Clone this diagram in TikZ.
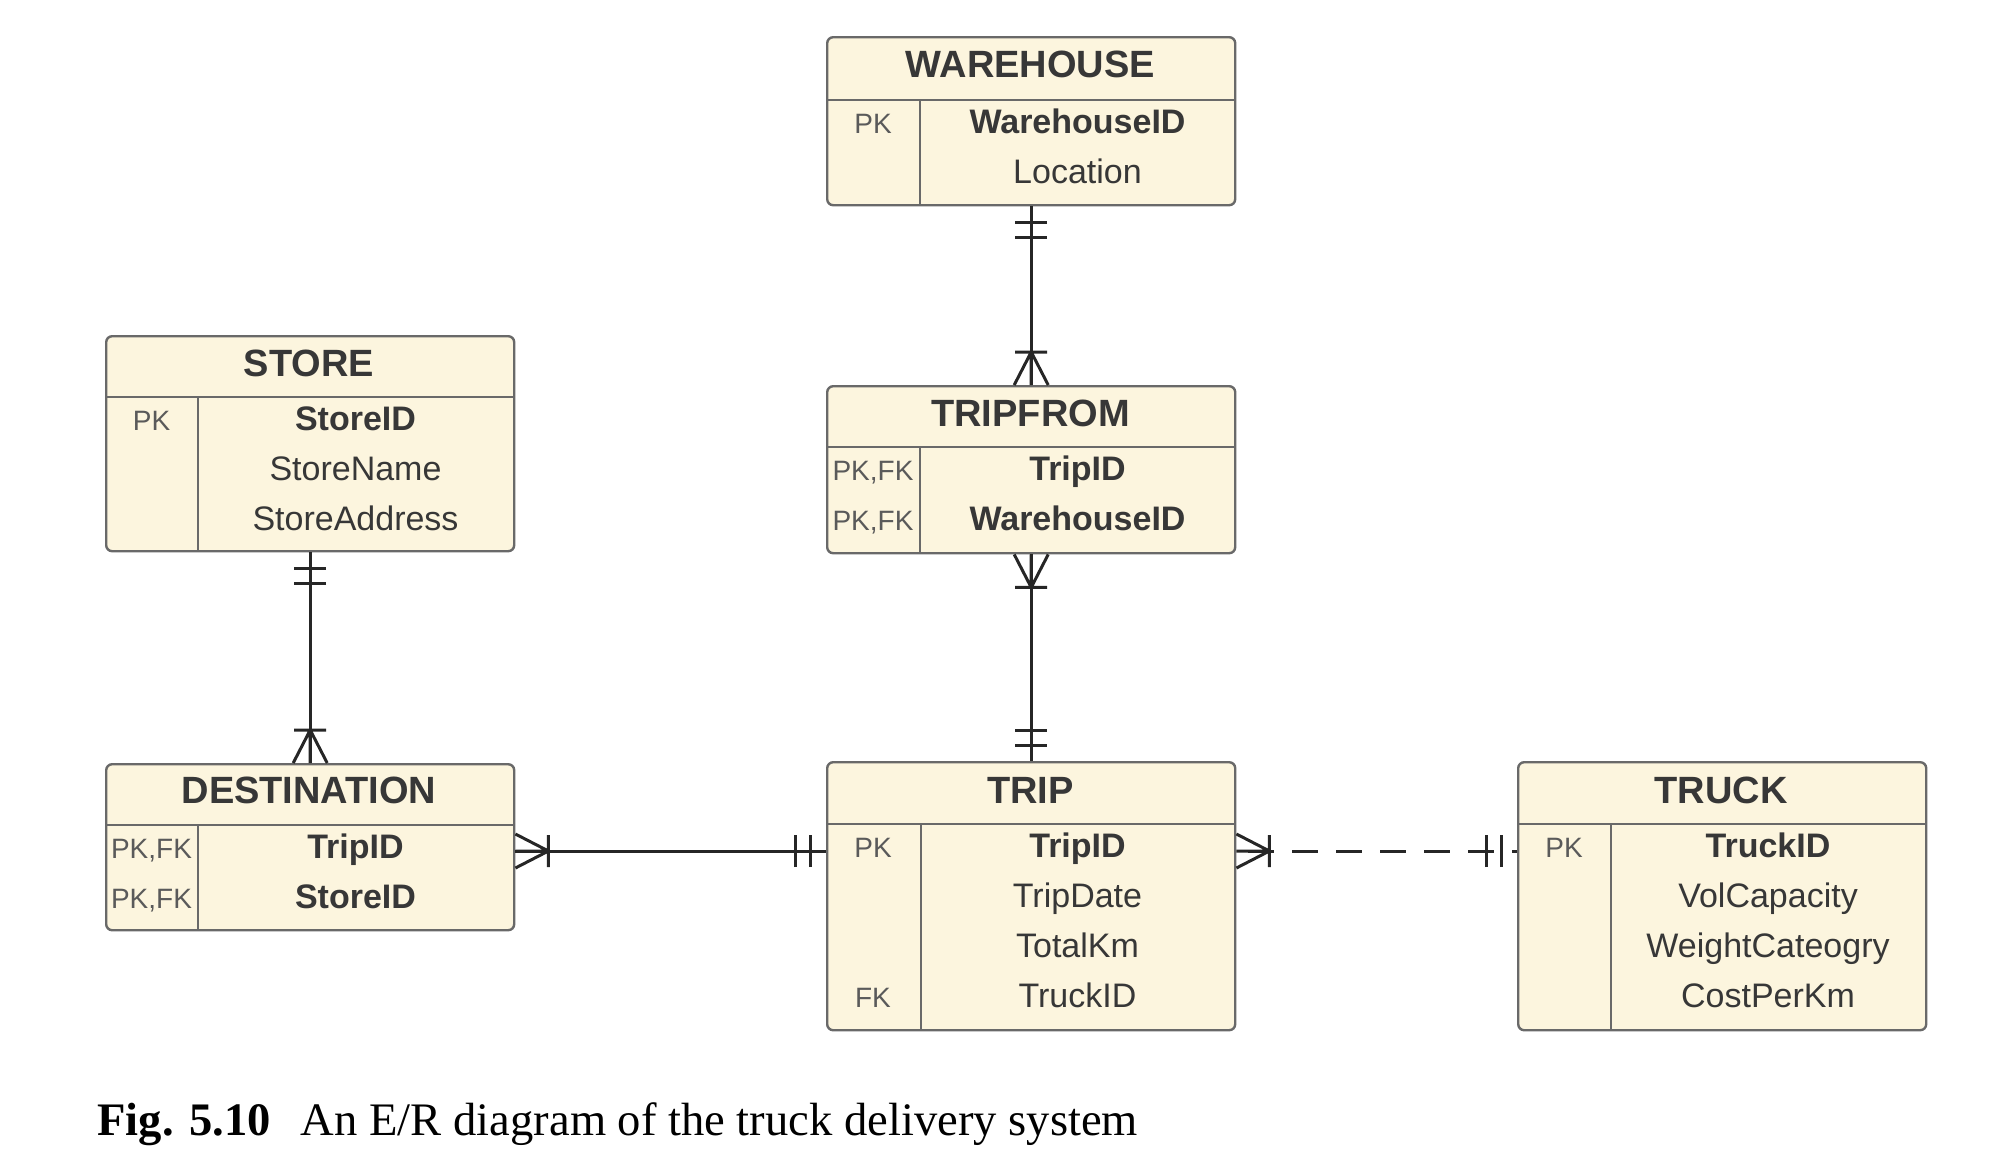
\documentclass[tikz,border=0pt]{standalone}
\usepackage{fontspec}
\setmainfont{Liberation Serif}
\setsansfont{Liberation Sans}
\definecolor{entfill}{RGB}{252,245,222}
\definecolor{entline}{RGB}{105,105,105}
\definecolor{enttext}{RGB}{55,55,55}
\definecolor{keytext}{RGB}{90,90,90}
\begin{document}
\begin{tikzpicture}[x=0.5pt,y=-0.5pt]
\tikzstyle{entity}=[draw=entline,fill=entfill,line width=1.2pt,rounded corners=3pt,inner sep=0,minimum width=204pt,anchor=north west]
\tikzstyle{divider}=[draw=entline,line width=1.2pt]
\tikzset{
	title/.style={anchor=base,inner sep=0,text=enttext,font=\sffamily\bfseries\fontsize{19}{19}\selectfont},
	field/.style={anchor=base,inner sep=0,text=enttext,font=\sffamily\fontsize{17}{17}\selectfont},
	pkfield/.style={field,font=\sffamily\bfseries\fontsize{17}{17}\selectfont},
	keyname/.style={anchor=base,inner sep=0,text=keytext,font=\sffamily\fontsize{14}{14}\selectfont},
	rel/.style={draw=black!85,line width=1.5pt},
	one one/.pic={\draw[rel] (16,-16) -- (16,16) (31,-16) -- (31,16);},
	one many/.pic={\draw[rel] (33,-16) -- (33,16) (0,-17) -- (33,0) -- (0,17) (0,0) -- (33,0);}
}
\useasboundingbox (0,0) rectangle (2000,1158);

% WAREHOUSE
\node[entity,minimum height=84pt] (wh) at (826,36) {};
\draw[divider] (826,100) -- (1235,100) (920,100) -- (920,204);
\node[title] (wh-t) at (1030.5,77) {WAREHOUSE};
\node[keyname] (wh-k1) at (873,133) {PK};
\node[pkfield] (wh-f1) at (1077.5,133) {WarehouseID};
\node[field] (wh-f2) at (1077.5,183) {Location};

% TRIPFROM
\node[entity,minimum height=83.5pt] (tf) at (826,385) {};
\draw[divider] (826,447) -- (1235,447) (920,447) -- (920,552);
\node[title] (tf-t) at (1030.5,426) {TRIPFROM};
\node[keyname] (tf-k1) at (873,480) {PK,FK};
\node[keyname] (tf-k2) at (873,530) {PK,FK};
\node[pkfield] (tf-f1) at (1077.5,480) {TripID};
\node[pkfield] (tf-f2) at (1077.5,530) {WarehouseID};

% STORE
\node[entity,minimum height=107.5pt] (st) at (105,335) {};
\draw[divider] (105,397) -- (513,397) (198,397) -- (198,550);
\node[title] (st-t) at (309,376) {STORE};
\node[keyname] (st-k1) at (151.5,430) {PK};
\node[pkfield] (st-f1) at (355.5,430) {StoreID};
\node[field] (st-f2) at (355.5,480) {StoreName};
\node[field] (st-f3) at (355.5,530) {StoreAddress};

% DESTINATION
\node[entity,minimum height=83pt] (ds) at (105,763) {};
\draw[divider] (105,825) -- (513,825) (198,825) -- (198,929);
\node[title] (ds-t) at (309,803) {DESTINATION};
\node[keyname] (ds-k1) at (151.5,858) {PK,FK};
\node[keyname] (ds-k2) at (151.5,908) {PK,FK};
\node[pkfield] (ds-f1) at (355.5,858) {TripID};
\node[pkfield] (ds-f2) at (355.5,908) {StoreID};

% TRIP
\node[entity,minimum height=134pt] (tp) at (826,761) {};
\draw[divider] (826,824) -- (1235,824) (921,824) -- (921,1029);
\node[title] (tp-t) at (1030.5,803) {TRIP};
\node[keyname] (tp-k1) at (873,857) {PK};
\node[keyname] (tp-k4) at (873,1007) {FK};
\node[pkfield] (tp-f1) at (1077.5,857) {TripID};
\node[field] (tp-f2) at (1077.5,907) {TripDate};
\node[field] (tp-f3) at (1077.5,957) {TotalKm};
\node[field] (tp-f4) at (1077.5,1007) {TruckID};

% TRUCK
\node[entity,minimum height=134pt] (tk) at (1517,761) {};
\draw[divider] (1517,824) -- (1925,824) (1611,824) -- (1611,1029);
\node[title] (tk-t) at (1721,803) {TRUCK};
\node[keyname] (tk-k1) at (1564,857) {PK};
\node[pkfield] (tk-f1) at (1768,857) {TruckID};
\node[field] (tk-f2) at (1768,907) {VolCapacity};
\node[field] (tk-f3) at (1768,957) {WeightCateogry};
\node[field] (tk-f4) at (1768,1007) {CostPerKm};

% relationships
\coordinate (row) at (0,851);
\draw[rel] (wh.south) -- (tf.north);
\pic[rotate=-90] at (wh.south) {one one};
\pic[rotate=90] at (tf.north) {one many};

\draw[rel] (tf.south) -- (tp.north);
\pic[rotate=-90] at (tf.south) {one many};
\pic[rotate=90] at (tp.north) {one one};

\draw[rel] (st.south) -- (ds.north);
\pic[rotate=-90] at (st.south) {one one};
\pic[rotate=90] at (ds.north) {one many};

\draw[rel] (ds.east |- row) -- (tp.west |- row);
\pic at (ds.east |- row) {one many};
\pic[rotate=180] at (tp.west |- row) {one one};

\draw[rel,dash pattern=on 13pt off 9pt,dash phase=-6pt] (tp.east |- row) -- (tk.west |- row);
\pic at (tp.east |- row) {one many};
\pic[rotate=180] at (tk.west |- row) {one one};

% caption
\node[anchor=base west,inner sep=0,font=\fontsize{23.3}{24}\selectfont] (cap) at (97,1135)
	{\textbf{Fig. 5.10}\hspace{15pt}An E/R diagram of the truck delivery system};
\end{tikzpicture}
\end{document}
